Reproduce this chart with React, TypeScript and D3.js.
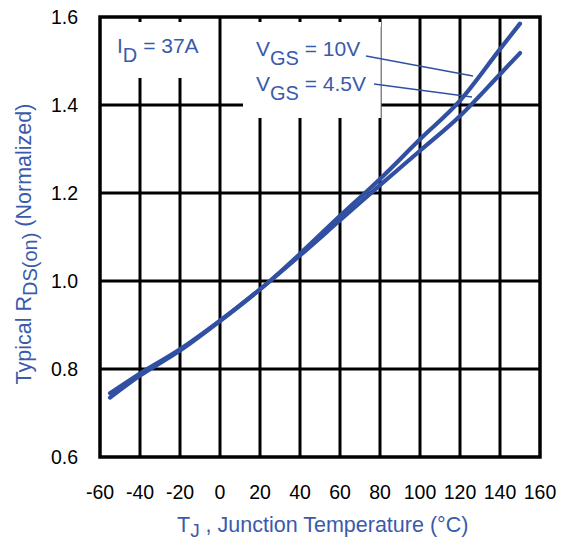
import React from "react";
import * as d3 from "d3";

const temps = [-55, -40, -20, 0, 25, 40, 60, 80, 100, 120, 140, 150];
const vgs10 = [0.735, 0.785, 0.842, 0.909, 1.0, 1.062, 1.148, 1.232, 1.322, 1.41, 1.527, 1.585];
const vgs45 = [0.745, 0.79, 0.845, 0.91, 1.0, 1.058, 1.138, 1.218, 1.296, 1.375, 1.47, 1.518];
const xTicks = [-60, -40, -20, 0, 20, 40, 60, 80, 100, 120, 140, 160];
const yTicks = [0.6, 0.8, 1.0, 1.2, 1.4, 1.6];

const W = 566, H = 543;
const BLUE = "#3150a2";
const TXT = "#3a5aab";
const FONT = "'Liberation Sans', Arial, Helvetica, sans-serif";

export default function App() {
  const x = d3.scaleLinear().domain([-60, 160]).range([100, 540]);
  const y = d3.scaleLinear().domain([0.6, 1.6]).range([457, 17]);
  const line = d3
    .line<number>()
    .x((_, i) => x(temps[i]))
    .y((d) => y(d))
    .curve(d3.curveMonotoneX);

  const [x0, x1] = x.range();
  const [yb, yt] = y.range();

  return (
    <svg width={W} height={H} style={{ position: "absolute", left: 0, top: 0, background: "#fff" }} fontFamily={FONT}>
      <rect x={0} y={0} width={W} height={H} fill="#fff" />
      {/* grid */}
      {xTicks.slice(1, -1).map((t) => (
        <line key={"vx" + t} x1={x(t)} x2={x(t)} y1={yt} y2={yb} stroke="#000" strokeWidth={3} />
      ))}
      {yTicks.slice(1, -1).map((t) => (
        <line key={"hy" + t} x1={x0} x2={x1} y1={y(t)} y2={y(t)} stroke="#000" strokeWidth={3} />
      ))}
      {/* annotation boxes */}
      <rect x={102} y={22} width={114} height={56} fill="#fff" />
      <rect x={243} y={22} width={138} height={96} fill="#fff" />
      <line x1={381} x2={381} y1={27} y2={118} stroke="#888" strokeWidth={1} />
      {/* frame */}
      <rect x={x0} y={yt} width={x1 - x0} height={yb - yt} fill="none" stroke="#000" strokeWidth={3.5} />
      {/* curves */}
      <path d={line(vgs45) || ""} fill="none" stroke={BLUE} strokeWidth={4.2} strokeLinecap="round" />
      <path d={line(vgs10) || ""} fill="none" stroke={BLUE} strokeWidth={4.2} strokeLinecap="round" />
      {/* leader lines */}
      <line x1={366} y1={56} x2={473} y2={76} stroke={BLUE} strokeWidth={1.3} />
      <line x1={374} y1={84} x2={472} y2={97} stroke={BLUE} strokeWidth={1.3} />
      {/* annotations */}
      <text x={117} y={53} fill={TXT} fontSize={21}>
        <tspan>I</tspan>
        <tspan fontSize={20} dy={9}>D</tspan>
        <tspan dy={-9}> = 37A</tspan>
      </text>
      <text x={256} y={56} fill={TXT} fontSize={21}>
        <tspan>V</tspan>
        <tspan fontSize={20} dy={9}>GS</tspan>
        <tspan dy={-9}> = 10V</tspan>
      </text>
      <text x={256} y={91} fill={TXT} fontSize={21}>
        <tspan>V</tspan>
        <tspan fontSize={20} dy={9}>GS</tspan>
        <tspan dy={-9}> = 4.5V</tspan>
      </text>
      {/* tick labels */}
      {xTicks.map((t) => (
        <text key={"xt" + t} x={x(t)} y={499} textAnchor="middle" fontSize={19.5} fill="#000">
          {t}
        </text>
      ))}
      {yTicks.map((t) => (
        <text key={"yt" + t} x={78} y={y(t)} dy="0.36em" textAnchor="end" fontSize={19.5} fill="#000">
          {t.toFixed(1)}
        </text>
      ))}
      {/* axis titles */}
      <text x={177} y={532} fill={TXT} fontSize={21.5}>
        <tspan>T</tspan>
        <tspan fontSize={19} dy={5}>J</tspan>
        <tspan dy={-5}> , Junction Temperature (°C)</tspan>
      </text>
      <text transform="translate(31,244) rotate(-90)" textAnchor="middle" fill={TXT} fontSize={21.5}>
        <tspan>Typical R</tspan>
        <tspan fontSize={20} dy={6}>DS(on)</tspan>
        <tspan dy={-6}> (Normalized)</tspan>
      </text>
    </svg>
  );
}
